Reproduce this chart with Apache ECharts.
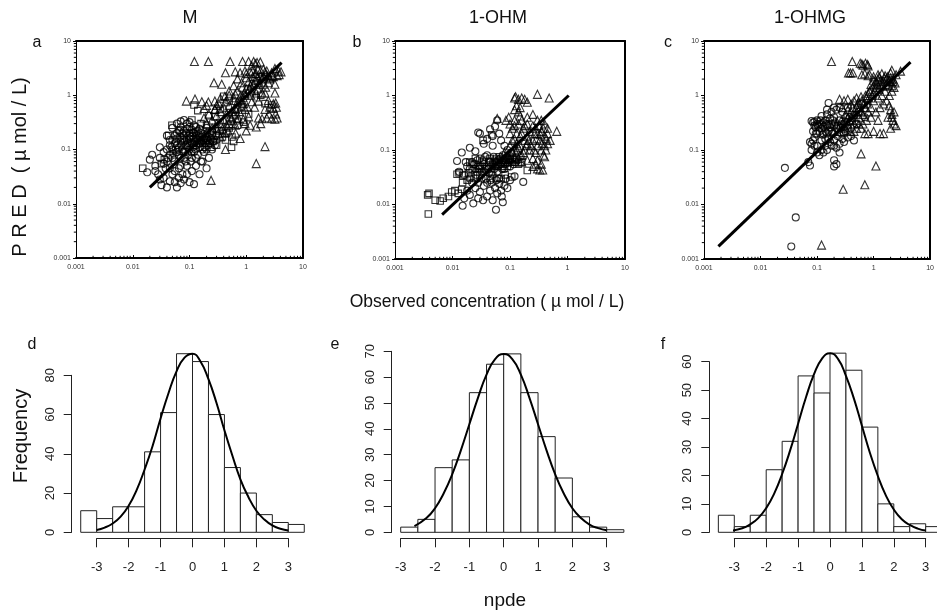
<!DOCTYPE html>
<html><head><meta charset="utf-8">
<script src="https://cdn.jsdelivr.net/npm/echarts/dist/echarts.min.js"></script>
<style>html,body{margin:0;padding:0;background:#fff}#c{width:937px;height:612px}</style>
</head><body><div id="c"></div>
<script>
// ---------- DATA ----------
const panelTitles = ['M', '1-OHM', '1-OHMG'];
const logTicks = [0.001, 0.01, 0.1, 1, 10];
const logTickLabels = ['0.001', '0.01', '0.1', '1', '10'];
const minorVals = [0.002,0.003,0.004,0.005,0.006,0.007,0.008,0.009,
  0.02,0.03,0.04,0.05,0.06,0.07,0.08,0.09,
  0.2,0.3,0.4,0.5,0.6,0.7,0.8,0.9,
  2,3,4,5,6,7,8,9];

// Panel a (M): observed vs PRED
const aCirc = [[0.018,0.038],[0.02,0.065],[0.022,0.08],[0.025,0.05],[0.028,0.035],[0.03,0.028],[0.032,0.022],[0.035,0.03],[0.038,0.045],[0.04,0.02],[0.045,0.026],[0.05,0.035],[0.055,0.025],[0.06,0.02],[0.065,0.03],[0.07,0.024],[0.08,0.028],[0.09,0.035],[0.1,0.025],[0.11,0.04],[0.12,0.023],[0.13,0.05],[0.15,0.035],[0.17,0.06],[0.2,0.045],[0.22,0.07],[0.18,0.09],[0.25,0.1],
  [0.04,0.18],[0.045,0.12],[0.05,0.25],[0.06,0.3],[0.07,0.33],[0.08,0.35],[0.09,0.3],[0.1,0.32],[0.12,0.28],[0.14,0.22],[0.16,0.2],[0.2,0.25],[0.25,0.22],[0.03,0.11],[0.035,0.09],[0.03,0.07],
  [0.04,0.06],[0.045,0.08],[0.05,0.1],[0.05,0.15],[0.055,0.06],[0.06,0.12],[0.06,0.2],[0.065,0.08],[0.07,0.14],[0.07,0.05],[0.075,0.1],[0.08,0.18],[0.08,0.07],[0.085,0.12],[0.09,0.15],[0.09,0.05],[0.1,0.1],[0.1,0.2],[0.11,0.13],[0.11,0.07],[0.12,0.16],[0.12,0.09],[0.13,0.12],[0.14,0.15],[0.14,0.08],[0.15,0.11],[0.16,0.14],[0.17,0.1],[0.18,0.16],[0.19,0.13],[0.2,0.1],[0.21,0.15],[0.23,0.13],[0.07,0.26],[0.08,0.22],[0.1,0.26],[0.12,0.2],[0.06,0.16],[0.045,0.15],[0.055,0.04],[0.065,0.045],[0.075,0.035],[0.095,0.08],[0.13,0.07],[0.16,0.06],[0.05,0.07],[0.025,0.04],[0.035,0.055],
  [0.055,0.13],[0.065,0.11],[0.075,0.16],[0.085,0.09],[0.095,0.13],[0.105,0.17],[0.115,0.11],[0.125,0.14],[0.135,0.18],[0.15,0.17],[0.17,0.13],[0.19,0.18],[0.22,0.17],[0.06,0.09],[0.07,0.07],[0.04,0.1],[0.045,0.045],[0.085,0.06],[0.105,0.06],[0.115,0.2],
  [0.042,0.07],[0.048,0.11],[0.052,0.085],[0.058,0.14],[0.063,0.1],[0.068,0.17],[0.072,0.12],[0.078,0.09],[0.082,0.14],[0.088,0.2],[0.092,0.11],[0.098,0.16],[0.102,0.13],[0.108,0.09],[0.112,0.18],[0.118,0.13],[0.128,0.1],[0.132,0.16],[0.138,0.13],[0.145,0.19],[0.155,0.13],[0.165,0.17],[0.175,0.15],[0.185,0.11],[0.195,0.16],[0.205,0.2],[0.215,0.12],[0.24,0.16],[0.26,0.14],[0.28,0.12],[0.3,0.15],[0.055,0.18],[0.065,0.22],[0.075,0.2],[0.09,0.24],[0.11,0.23],[0.13,0.26],[0.15,0.24]];
const aSq = [[0.015,0.045],[0.032,0.055],[0.036,0.065],[0.043,0.18],[0.049,0.28],[0.057,0.098],[0.068,0.23],[0.08,0.15],[0.11,0.35],[0.12,0.66],[0.14,0.52],[0.17,0.11],[0.19,0.15],[0.2,0.28],[0.25,0.2],[0.28,0.4],[0.37,0.26],[0.4,0.96],[0.43,0.15],[0.5,0.8],[0.55,0.11],[0.56,0.17],[0.6,0.14],[0.83,0.61],[2.14,0.7],[2.8,0.66],[0.3,0.18],[0.45,0.35],[0.65,0.42],[0.9,0.32],[1.1,0.45],[1.5,0.9],[0.16,0.3],[0.22,0.42],[0.35,0.55],[0.09,0.12],[0.13,0.21],[0.7,0.28],[1.8,1.0],[0.26,0.14],
  [0.2,0.13],[0.24,0.11],[0.3,0.12],[0.33,0.22],[0.38,0.17],[0.15,0.15],[0.12,0.12],[0.1,0.18],[0.45,0.2],[0.5,0.25]];
const aTri = [[0.122,4.2],[0.215,4.2],[0.52,4.2],[0.86,4.2],[1.1,4.2],[1.35,4.2],[1.55,4.0],[1.77,4.1],[1.45,3.8],[1.25,3.5],
  [0.43,2.6],[0.64,2.7],[0.78,2.6],[0.95,2.8],[1.17,2.7],[1.44,2.5],[2.14,2.7],[2.8,2.6],[3.7,2.8],[4.1,2.7],[3.2,3.1],
  [0.27,1.7],[0.37,1.6],[0.83,1.7],[1.25,1.7],[1.65,1.6],[2.45,1.7],[3.2,1.6],[0.7,2.0],[1.0,2.1],[1.9,2.0],[2.6,2.1],
  [0.64,1.05],[0.95,1.0],[1.5,1.1],[2.14,1.1],[3.2,1.1],[0.5,1.2],[0.42,0.95],
  [0.088,0.78],[0.125,0.85],[0.165,0.76],[0.215,0.75],[0.28,0.78],[0.43,0.76],[0.6,0.8],[0.83,0.75],[1.25,0.76],[1.65,0.78],[2.45,0.8],[0.35,0.88],[0.2,0.65],[0.3,0.65],
  [0.18,0.57],[0.28,0.55],[0.64,0.57],[0.95,0.55],[2.14,0.55],[2.6,0.6],[3.0,0.57],[3.4,0.6],[3.0,0.7],[3.3,0.72],
  [0.73,0.375],[0.89,0.36],[1.1,0.4],[1.65,0.38],[1.9,0.37],[2.3,0.38],[2.8,0.37],[3.2,0.36],[3.5,0.38],[3.3,0.45],[2.5,0.45],
  [0.64,0.28],[0.95,0.3],[1.17,0.28],[1.5,0.26],[1.0,0.22],[1.8,0.3],
  [0.78,0.16],[2.14,0.113],[1.5,0.055],[0.24,0.027],[0.43,0.1],[0.65,0.2],
  [0.2,0.3],[0.25,0.35],[0.3,0.42],[0.3,0.25],[0.35,0.5],[0.4,0.35],[0.4,0.6],[0.45,0.45],[0.5,0.3],[0.5,0.65],[0.55,0.5],[0.6,0.9],[0.65,0.55],[0.7,0.75],[0.7,1.2],[0.8,1.0],[0.85,1.4],[0.9,0.7],[1.0,1.3],[1.1,1.8],[1.2,1.5],[1.3,2.2],[1.5,2.5],[1.6,1.3],[1.8,2.3],[2.0,2.2],[2.3,2.8],[2.6,2.0],[2.2,1.4],[1.9,1.1],[0.28,0.55],[0.33,0.7],[0.22,0.45],[0.18,0.38],[1.2,1.0],[1.4,0.6],[0.75,0.5],[1.05,0.6],[0.55,0.38],[0.35,0.3],
  [0.2,0.2],[0.22,0.15],[0.25,0.25],[0.27,0.18],[0.3,0.3],[0.32,0.2],[0.35,0.17],[0.38,0.24],[0.42,0.2],[0.45,0.28],[0.48,0.22],[0.52,0.4],[0.58,0.3],[0.62,0.45],[0.68,0.35],[0.72,0.6],[0.78,0.8],[0.88,0.9],[0.92,1.1],[1.05,1.1],[1.15,1.3],[1.25,1.2],[1.35,1.6],[1.45,1.9],[1.6,2.1],[1.7,1.7],[2.0,1.6],[2.2,2.4],[2.4,2.3],[2.8,2.3],[3.0,2.2],[3.5,2.3],[3.8,2.4],[1.3,2.8],[1.6,3.0],[1.8,2.8],[2.0,3.0],[1.0,2.5],[0.6,1.5],[0.5,1.0]];
const aLine = [[0.02,0.02],[4.2,4.0]];

// Panel b (1-OHM)
const bCirc = [[0.012,0.063],[0.0145,0.09],[0.015,0.0095],[0.023,0.0105],[0.034,0.012],[0.057,0.008],[0.072,0.014],[0.075,0.011],[0.17,0.026],
  [0.06,0.35],[0.055,0.27],[0.045,0.24],[0.028,0.21],[0.035,0.13],[0.02,0.11],[0.025,0.095],[0.04,0.16],[0.05,0.12],[0.07,0.15],[0.08,0.12],[0.065,0.2],[0.03,0.2],[0.05,0.18],
  [0.013,0.04],[0.016,0.035],[0.018,0.05],[0.02,0.03],[0.022,0.06],[0.025,0.045],[0.028,0.025],[0.03,0.07],[0.032,0.04],[0.035,0.055],[0.038,0.03],[0.04,0.08],[0.042,0.045],[0.045,0.06],[0.05,0.035],[0.052,0.075],[0.055,0.05],[0.06,0.04],[0.062,0.065],[0.065,0.03],[0.07,0.055],[0.075,0.08],[0.08,0.045],[0.085,0.06],[0.09,0.1],[0.1,0.05],[0.11,0.07],
  [0.016,0.013],[0.018,0.018],[0.02,0.015],[0.025,0.02],[0.028,0.013],[0.03,0.017],[0.035,0.022],[0.04,0.014],[0.045,0.018],[0.048,0.025],[0.05,0.012],[0.055,0.02],[0.06,0.016],[0.065,0.024],[0.07,0.018],[0.08,0.022],[0.085,0.03],[0.09,0.02],[0.1,0.028],[0.12,0.033],[0.022,0.025],[0.032,0.03],[0.04,0.025],[0.058,0.028],
  [0.024,0.055],[0.027,0.065],[0.033,0.05],[0.037,0.075],[0.043,0.038],[0.047,0.05],[0.053,0.045],[0.058,0.06],[0.063,0.05],[0.068,0.07],[0.073,0.045],[0.078,0.065],[0.083,0.055],[0.088,0.075],[0.095,0.06],[0.105,0.09],[0.115,0.055],[0.13,0.07],[0.026,0.035],[0.036,0.04],[0.046,0.028],[0.03,0.05],[0.02,0.045],[0.017,0.06]];
const bSq = [[0.0037,0.015],[0.0039,0.016],[0.0038,0.0067],[0.005,0.012],[0.0061,0.0116],[0.0069,0.013],[0.0085,0.014],[0.0097,0.017],[0.011,0.018],[0.0126,0.016],[0.0145,0.019],[0.012,0.036],[0.013,0.038],[0.015,0.034],[0.034,0.15],[0.048,0.19],[0.2,0.042],[0.107,0.032],[0.082,0.035],
  [0.02,0.06],[0.022,0.045],[0.025,0.07],[0.028,0.05],[0.03,0.035],[0.035,0.065],[0.04,0.05],[0.045,0.07],[0.05,0.055],[0.055,0.065],[0.06,0.05],[0.065,0.075],[0.07,0.06],[0.08,0.065],[0.09,0.05],[0.1,0.07],[0.12,0.06],[0.14,0.055],[0.015,0.025],[0.018,0.028],[0.021,0.032],[0.06,0.03],[0.07,0.03],[0.045,0.03],
  [0.023,0.055],[0.027,0.04],[0.033,0.06],[0.038,0.045],[0.043,0.06],[0.048,0.04],[0.053,0.06],[0.058,0.07],[0.063,0.055],[0.075,0.05],[0.085,0.07],[0.095,0.065],[0.11,0.06],[0.13,0.065],[0.16,0.06],[0.03,0.045],[0.025,0.03],[0.019,0.038]];
const bTri = [[0.12,0.9],[0.125,0.95],[0.14,0.85],[0.16,0.9],[0.18,0.85],[0.2,0.75],[0.13,0.65],[0.15,0.6],[0.12,0.55],[0.14,0.5],[0.15,0.42],[0.16,0.35],[0.3,1.05],[0.48,0.9],[0.65,0.22],[0.3,0.045],[0.33,0.043],[0.37,0.043],[0.25,0.05],[0.06,0.38],[0.085,0.35],[0.095,0.4],[0.1,0.3],[0.12,0.28],[0.11,0.25],[0.13,0.2],[0.15,0.18],[0.17,0.25],[0.2,0.3],[0.22,0.22],[0.25,0.28],[0.28,0.25],[0.3,0.2],[0.35,0.22],[0.4,0.18],[0.38,0.25],[0.33,0.15],[0.3,0.12],[0.35,0.1],[0.38,0.08],[0.4,0.075],[0.42,0.1],[0.45,0.13],[0.28,0.09],[0.25,0.07],[0.22,0.1],[0.2,0.13],[0.18,0.1],[0.15,0.08],[0.12,0.1],[0.1,0.12],[0.25,0.15],[0.2,0.065],[0.16,0.06],[0.14,0.07],[0.3,0.065],[0.35,0.055],[0.28,0.055],[0.18,0.15],[0.4,0.3],[0.45,0.2],[0.5,0.15],[0.1,0.07],[0.09,0.08],[0.08,0.09],[0.11,0.15],[0.13,0.13],[0.2,0.18],
  [0.11,0.09],[0.13,0.1],[0.15,0.12],[0.17,0.09],[0.19,0.12],[0.21,0.15],[0.23,0.12],[0.26,0.1],[0.27,0.2],[0.29,0.16],[0.32,0.28],[0.34,0.19],[0.36,0.13],[0.4,0.12],[0.43,0.16],[0.16,0.2],[0.18,0.28],[0.14,0.3],[0.2,0.4],[0.25,0.45],[0.3,0.35],[0.35,0.35],[0.45,0.25],[0.12,0.35],[0.1,0.2],[0.12,0.16],[0.14,0.11],[0.09,0.06],[0.12,0.075],[0.16,0.08]];
const bLine = [[0.0066,0.0065],[1.05,1.0]];

// Panel c (1-OHMG)
const cCirc = [[0.027,0.047],[0.042,0.0058],[0.035,0.0017],[0.16,0.73],[0.07,0.06],[0.075,0.052],[0.08,0.13],[0.085,0.15],[0.09,0.17],[0.08,0.1],[0.1,0.12],[0.1,0.09],[0.12,0.1],[0.2,0.05],[0.2,0.065],[0.22,0.055],[0.25,0.09],[0.09,0.33],[0.1,0.35],[0.11,0.3],[0.12,0.25],[0.13,0.2],[0.14,0.35],[0.15,0.28],[0.16,0.22],[0.18,0.3],[0.2,0.4],[0.22,0.25],[0.25,0.35],[0.28,0.3],[0.3,0.2],[0.35,0.25],[0.4,0.18],[0.45,0.15],[0.12,0.15],[0.14,0.12],[0.16,0.16],[0.18,0.12],[0.2,0.15],[0.22,0.11],[0.25,0.13],[0.3,0.14],[0.12,0.42],[0.15,0.45],[0.18,0.5],[0.22,0.55],[0.25,0.6],[0.28,0.5],[0.1,0.2],[0.13,0.32],[0.17,0.38],[0.19,0.2],[0.23,0.18],[0.27,0.2],[0.33,0.32],[0.38,0.4],[0.42,0.35],[0.5,0.3],[0.11,0.08],[0.13,0.09],[0.15,0.1],[0.095,0.26],[0.085,0.32],[0.105,0.28],[0.55,0.5],[0.6,0.7],[0.7,0.4],
  [0.085,0.22],[0.09,0.28],[0.095,0.2],[0.1,0.3],[0.11,0.22],[0.115,0.35],[0.12,0.3],[0.125,0.19],[0.13,0.27],[0.14,0.22],[0.145,0.3],[0.15,0.2],[0.16,0.3],[0.17,0.26],[0.18,0.22],[0.19,0.35],[0.2,0.28],[0.21,0.32],[0.24,0.28],[0.26,0.25],[0.3,0.3],[0.32,0.22],[0.28,0.16],[0.35,0.17],[0.2,0.12],[0.17,0.14],[0.14,0.16],[0.09,0.12],[0.075,0.14],[0.08,0.34],[0.35,0.6],[0.4,0.25],[0.15,0.55],[0.2,0.6]];
const cSq = [];
const cTri = [[0.12,0.0018],[0.29,0.019],[0.7,0.023],[1.1,0.051],[0.6,0.085],[0.18,4.2],[0.42,4.2],[0.58,3.9],[0.62,3.8],[0.65,3.6],[0.72,3.9],[0.78,3.7],[0.8,3.5],[0.36,2.6],[0.39,2.6],[0.43,2.6],[0.62,2.4],[0.7,2.5],[0.8,2.3],[0.85,2.4],[1.0,2.2],[1.2,2.4],[1.4,2.5],[1.6,2.3],[2.0,2.6],[2.1,2.9],[2.5,2.4],[3.0,2.8],
  [1.9,0.65],[2.0,0.55],[2.1,0.45],[2.2,0.35],[2.3,0.3],[2.5,0.28],[1.8,0.4],[2.0,0.25],[2.1,0.4],[2.3,0.5],[1.3,0.2],[1.5,0.2],[1.0,0.22],[0.8,0.2],[0.7,0.2],[0.65,0.3],
  [0.25,0.85],[0.3,0.8],[0.35,0.85],[0.4,0.7],[0.45,0.8],[0.5,0.9],[0.55,0.75],[0.6,0.95],[0.28,0.6],[0.35,0.55],[0.4,0.5],[0.5,0.6],[0.55,0.4],[0.6,0.5],[0.7,0.6],[0.75,0.9],[0.8,1.1],[0.9,1.3],[1.0,1.5],[1.1,1.8],[1.2,2.0],[1.3,1.6],[1.5,1.8],[1.7,2.0],[1.8,1.5],[2.0,1.8],[2.2,2.0],[2.3,1.4],[2.1,1.2],[1.9,1.0],[1.6,1.2],[1.4,1.0],[1.2,0.9],[1.0,0.8],[0.9,0.6],[1.1,0.5],[1.3,0.6],[1.5,0.7],[1.7,0.8],[2.4,1.7],[0.3,0.35],[0.35,0.4],[0.45,0.3],[0.5,0.25],[0.38,0.22],[0.3,0.25],[0.9,0.4],[1.2,0.35],
  [0.2,0.22],[0.22,0.3],[0.25,0.22],[0.27,0.35],[0.3,0.28],[0.32,0.45],[0.35,0.3],[0.38,0.35],[0.4,0.4],[0.42,0.6],[0.45,0.45],[0.48,0.35],[0.5,0.5],[0.52,0.7],[0.58,0.6],[0.62,0.8],[0.65,0.45],[0.68,0.7],[0.72,1.0],[0.78,0.7],[0.82,0.9],[0.85,1.2],[0.9,1.6],[0.95,1.0],[1.05,1.2],[1.1,1.4],[1.15,1.7],[1.25,1.3],[1.35,1.9],[1.45,1.5],[1.55,2.1],[1.65,1.6],[1.75,2.2],[1.85,1.9],[2.0,2.1],[2.1,1.5],[2.2,1.8],[1.25,2.2],[1.0,1.9],[0.8,0.5],[0.75,0.35],[0.6,0.25],[0.45,0.22],[0.55,0.3]];
const cLine = [[0.0018,0.0017],[4.5,4.1]];

// Histograms of npde
const binEdgesD = [-3.5,-3,-2.5,-2,-1.5,-1,-0.5,0,0.5,1,1.5,2,2.5,3,3.5];
const countsD   = [11,7,13,13,41,61,91,87,60,33,20,9,5,4];
const binEdgesE = [-3,-2.5,-2,-1.5,-1,-0.5,0,0.5,1,1.5,2,2.5,3,3.5];
const countsE   = [2,5,25,28,54,65,69,54,37,21,6,2,1];
const binEdgesF = [-3.5,-3,-2.5,-2,-1.5,-1,-0.5,0,0.5,1,1.5,2,2.5,3,3.5];
const countsF   = [6,2,6,22,32,55,49,63,57,37,10,2,3,2];

const curveXD = [-3,-2.75,-2.5,-2.25,-2,-1.75,-1.5,-1.25,-1,-0.75,-0.5,-0.25,0,0.25,0.5,0.75,1,1.25,1.5,1.75,2,2.25,2.5,2.75,3];
const curveYD = [1.2,2.4,4.5,8,13.5,21.5,32,44,58,71,82,89,91,87,78,66,52,39,27,18,11,6.5,3.5,1.8,0.9];
const curveXE = [-2.6,-2.25,-2,-1.75,-1.5,-1.25,-1,-0.75,-0.5,-0.25,0,0.25,0.5,0.75,1,1.25,1.5,1.75,2,2.25,2.5,2.75,3];
const curveYE = [2.4,5.5,9.3,15,22.4,31.6,41.8,52,61,67,69,67,61,52,41.8,31.6,22.4,15,9.3,5.5,3,1.6,0.8];
const curveXF = [-3.1,-2.75,-2.5,-2.25,-2,-1.75,-1.5,-1.25,-1,-0.75,-0.5,-0.25,0,0.25,0.5,0.75,1,1.25,1.5,1.75,2,2.25,2.5,2.75,3];
const curveYF = [0.6,1.4,2.8,5,8.5,13.6,20.5,28.8,38.2,47.6,55.6,61.1,63,61,55,47,37.5,28,19.8,13,8,4.6,2.6,1.3,0.6];

const histYMax = [80, 70, 60];
const histYInterval = [20, 10, 10];
const histXTicks = [-3, 3];

// ---------- LAYOUT ----------
const scatterGrids = [
  {left:76, top:41, width:227, height:217},
  {left:395, top:41, width:230, height:218},
  {left:704, top:41, width:232, height:218}
];
const histGrids = [
  {left:96.7, top:375.3, width:191.6, height:157},
  {left:400.7, top:351.3, width:206, height:181},
  {left:734.3, top:361.7, width:191.4, height:170.6}
];
const histYOffset = [25, 9, 25];

const FONT = 'Liberation Sans, Arial, sans-serif';
const NARROW = 'Liberation Sans Narrow, Liberation Sans, Arial, sans-serif';

const grid = [], xAxis = [], yAxis = [], series = [];
function logLabel(v){ const k = Math.round(Math.log10(v)); const i = logTicks.findIndex(t => Math.round(Math.log10(t)) === k); return i >= 0 ? logTickLabels[i] : ''; }

scatterGrids.forEach((g) => grid.push(Object.assign({containLabel:false}, g)));
histGrids.forEach((g) => grid.push(Object.assign({containLabel:false}, g)));

for (let i = 0; i < 3; i++) {
  xAxis.push({type:'log', logBase:10, gridIndex:i, min:logTicks[0], max:logTicks[logTicks.length-1], position:'bottom',
    axisLine:{show:true, lineStyle:{color:'#000', width:2}},
    axisTick:{show:true, inside:true, length:3, lineStyle:{color:'#000', width:1}},
    axisLabel:{show:true, formatter:logLabel, fontSize:7, fontFamily:NARROW, color:'#333', margin:6},
    splitLine:{show:false}, minorTick:{show:false}});
  yAxis.push({type:'log', logBase:10, gridIndex:i, min:logTicks[0], max:logTicks[logTicks.length-1], position:'left',
    axisLine:{show:true, lineStyle:{color:'#000', width:1}},
    axisTick:{show:true, inside:false, length:3, lineStyle:{color:'#000', width:1}},
    axisLabel:{show:true, formatter:logLabel, fontSize:7, fontFamily:NARROW, color:'#333', margin:5},
    splitLine:{show:false}});
}
for (let j = 0; j < 3; j++) {
  xAxis.push({type:'value', gridIndex:3+j, min:histXTicks[0], max:histXTicks[1], interval:1, position:'bottom', offset:6,
    axisLine:{show:true, onZero:false, lineStyle:{color:'#222', width:1}},
    axisTick:{show:true, inside:false, length:9, lineStyle:{color:'#222', width:1}},
    axisLabel:{show:true, fontSize:13, fontFamily:FONT, color:'#222', margin:23},
    splitLine:{show:false}});
  yAxis.push({type:'value', gridIndex:3+j, min:0, max:histYMax[j], interval:histYInterval[j], position:'left', offset:histYOffset[j],
    axisLine:{show:true, onZero:false, lineStyle:{color:'#222', width:1}},
    axisTick:{show:true, inside:false, length:8, lineStyle:{color:'#222', width:1}},
    axisLabel:{show:true, rotate:90, fontSize:13, fontFamily:FONT, color:'#222', margin:15},
    splitLine:{show:false}});
}
for (let i = 0; i < 3; i++) {
  xAxis.push({type:'value', gridIndex:i, min:0, max:1, position:'top',
    axisLine:{show:true, onZero:false, lineStyle:{color:'#000', width:2}}, axisTick:{show:false}, axisLabel:{show:false}, splitLine:{show:false}});
  yAxis.push({type:'value', gridIndex:i, min:0, max:1, position:'right',
    axisLine:{show:true, onZero:false, lineStyle:{color:'#000', width:2}}, axisTick:{show:false}, axisLabel:{show:false}, splitLine:{show:false}});
}

const openStyle = {color:'rgba(0,0,0,0)', borderColor:'#000', borderWidth:1.1};
function scat(data, symbol, size, i){
  return {type:'scatter', xAxisIndex:i, yAxisIndex:i, data:data, symbol:symbol, symbolSize:size, itemStyle:openStyle, silent:true, animation:false};
}
function minorTickItem(params, api){
  const v = api.value(0);
  const cs = params.coordSys;
  const xp = api.coord([v, 1])[0];
  const yp = api.coord([1, v])[1];
  const b = cs.y + cs.height;
  return {type:'group', children:[
    {type:'line', shape:{x1:xp, y1:b, x2:xp, y2:b-2.2}, style:{stroke:'#000', lineWidth:1}},
    {type:'line', shape:{x1:cs.x, y1:yp, x2:cs.x-2.2, y2:yp}, style:{stroke:'#000', lineWidth:1}}
  ]};
}
const scatterSets = [[aCirc,aSq,aTri,aLine],[bCirc,bSq,bTri,bLine],[cCirc,cSq,cTri,cLine]];
scatterSets.forEach((s, i) => {
  series.push({type:'custom', xAxisIndex:i, yAxisIndex:i, coordinateSystem:'cartesian2d', clip:false, silent:true,
    data: minorVals.map(v => [v, v]), renderItem:minorTickItem, animation:false});
  series.push(scat(s[0], 'circle', 7, i));
  series.push(scat(s[1], 'rect', 6.5, i));
  series.push(scat(s[2], 'triangle', 8, i));
  series.push({type:'line', xAxisIndex:i, yAxisIndex:i, data:s[3], symbol:'none', lineStyle:{color:'#000', width:3}, silent:true, animation:false});
});

function barItem(params, api){
  const p0 = api.coord([api.value(0), api.value(2)]);
  const p1 = api.coord([api.value(1), 0]);
  return {type:'rect', shape:{x:p0[0], y:p0[1], width:p1[0]-p0[0], height:p1[1]-p0[1]}, style:{fill:'#fff', stroke:'#222', lineWidth:1}};
}
const hists = [[binEdgesD,countsD,curveXD,curveYD],[binEdgesE,countsE,curveXE,curveYE],[binEdgesF,countsF,curveXF,curveYF]];
hists.forEach((h, j) => {
  const idx = 3 + j;
  series.push({type:'custom', xAxisIndex:idx, yAxisIndex:idx, coordinateSystem:'cartesian2d', clip:false, silent:true, animation:false,
    encode:{x:[0,1], y:2}, data: h[1].map((c, k) => [h[0][k], h[0][k+1], c]), renderItem:barItem});
  series.push({type:'line', xAxisIndex:idx, yAxisIndex:idx, clip:false, smooth:true, symbol:'none', silent:true, animation:false,
    data: h[2].map((x, k) => [x, h[3][k]]), lineStyle:{color:'#000', width:2}});
});

function txt(text, x, y, size, rot, family){
  return {type:'text', x:x, y:y, rotation:rot||0, silent:true,
    style:{text:text, font: size + 'px ' + (family||FONT), fill:'#111', align:'center', verticalAlign:'middle', textAlign:'center', textVerticalAlign:'middle'}};
}
const graphic = [
  txt(panelTitles[0], 190, 18, 18), txt(panelTitles[1], 498, 18, 18), txt(panelTitles[2], 810, 18, 18),
  txt('a', 37, 43, 16), txt('b', 357, 43, 16), txt('c', 668, 43, 16),
  txt('d', 32, 345, 16), txt('e', 335, 345, 16), txt('f', 663, 345, 16),
  txt('P R E D  ( µ mol / L)', 20, 167, 20, Math.PI/2),
  txt('Observed concentration ( µ mol / L)', 487, 302, 17.5),
  txt('Frequency', 21, 436, 20, Math.PI/2),
  txt('npde', 505, 601, 19)
];

const chart = echarts.init(document.getElementById('c'), null, {renderer:'canvas'});
chart.setOption({animation:false, backgroundColor:'#fff', grid, xAxis, yAxis, series, graphic});
</script></body></html>
